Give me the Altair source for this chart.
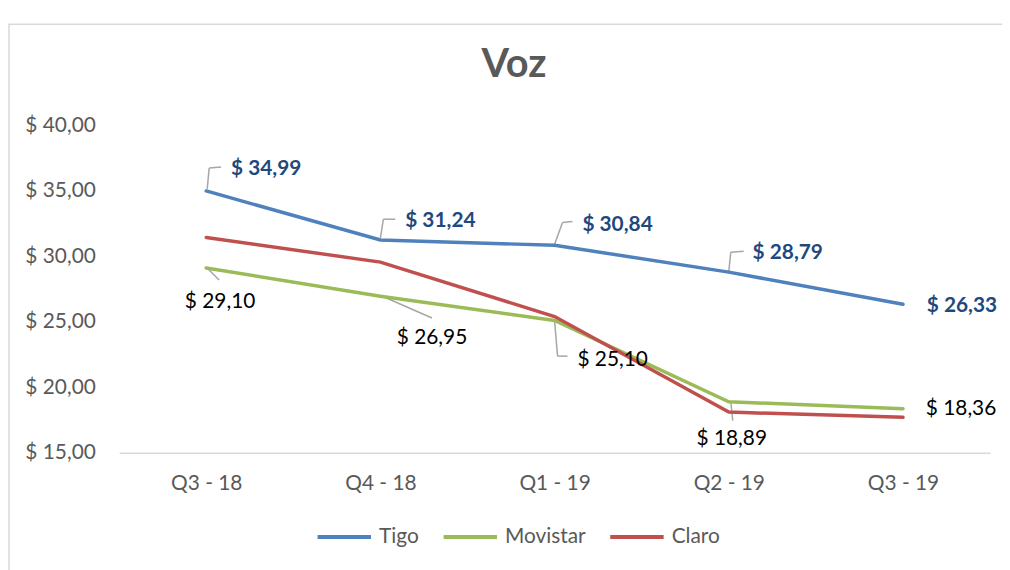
import json
import altair as alt
import pandas as pd

# ---------------- data ----------------
quarters = ["Q3 - 18", "Q4 - 18", "Q1 - 19", "Q2 - 19", "Q3 - 19"]
series = ["Tigo", "Movistar", "Claro"]
tigo = [34.99, 31.24, 30.84, 28.79, 26.33]
movistar = [29.10, 26.95, 25.10, 18.89, 18.36]
claro = [31.44, 29.55, 25.40, 18.10, 17.70]
y_ticks = [15, 20, 25, 30, 35, 40]

# ---------------- styles ----------------
colors = ["#4F81BD", "#9BBB59", "#C0504D"]
FONT = "Lato"
GREY_TXT = "#595959"
LEADER = "#A6A6A6"

# label offsets (dx, dy, align) in pixels, per point
tigo_lbl = [(25, -22, "left"), (25, -19, "left"), (28, -20, "left"), (24, -19, "left"), (24, 2, "left")]
mov_lbl = [(14, 34, "center"), (52, 42, "center"), (23, 40, "left"), (3, 38, "center"), (23, 0, "left")]
# leader segments (x1off, y1off, x2off, y2off) in pixels, per point
tigo_lead = [
    [(1, -2, 3, -23), (3, -23, 15, -24)],
    [(0, -2, 3, -21), (3, -21, 15, -21)],
    [(0, -1, 8, -23), (8, -23, 18, -24)],
    [(0, -1, 2, -20), (2, -20, 15, -21)],
    [],
]
mov_lead = [
    [(2, 1, 13, 12)],
    [(2, 0, 52, 22)],
    [(0, 1, 3, 36), (3, 36, 13, 36)],
    [(2, 0, 4, 19)],
    [],
]

rows = []
for name, vals in zip(series, [tigo, movistar, claro]):
    for i, (q, v) in enumerate(zip(quarters, vals)):
        rows.append({"series": name, "i": i, "quarter": q, "value": v,
                     "label": "$ " + f"{v:.2f}".replace(".", ",")})
df = pd.DataFrame(rows)

x_enc = alt.X(
    "i:Q",
    scale=alt.Scale(domain=[-0.5, 4.5], nice=False, zero=False),
    axis=alt.Axis(
        values=list(range(len(quarters))),
        labelExpr=json.dumps(quarters) + "[datum.value]",
        ticks=False, grid=False, domainColor="#D9D9D9", domainWidth=1.5,
        labelFont=FONT, labelFontSize=21, labelColor=GREY_TXT, labelPadding=20,
        title=None,
    ),
)
y_enc = alt.Y(
    "value:Q",
    scale=alt.Scale(domain=[15, 40], nice=False, zero=False),
    axis=alt.Axis(
        values=y_ticks,
        labelExpr="'$ ' + replace(format(datum.value, '.2f'), '.', ',')",
        ticks=False, grid=False, domain=False,
        labelFont=FONT, labelFontSize=21, labelColor=GREY_TXT, labelPadding=24,
        title=None,
    ),
)

base = alt.Chart(df)

lines = base.mark_line(strokeWidth=3.5, strokeCap="round").encode(
    x=x_enc, y=y_enc,
    color=alt.Color(
        "series:N",
        scale=alt.Scale(domain=series, range=colors),
        legend=alt.Legend(
            orient="none", legendX=198, legendY=386, direction="horizontal",
            symbolType="stroke", symbolStrokeWidth=4, symbolSize=2900,
            labelFont=FONT, labelFontSize=21, labelColor=GREY_TXT,
            columnPadding=16, labelOffset=6, title=None,
        ),
    ),
    detail="series:N",
)

layers = []

# leader lines
for name, leads in [("Tigo", tigo_lead), ("Movistar", mov_lead)]:
    for i, segs in enumerate(leads):
        for (a, b, c, d) in segs:
            layers.append(
                base.transform_filter(
                    (alt.datum.series == name) & (alt.datum.i == i)
                ).mark_rule(
                    color=LEADER, strokeWidth=1.5,
                    xOffset=a, yOffset=b, x2Offset=c, y2Offset=d,
                ).encode(x=x_enc, y=y_enc, x2=alt.X2("i"), y2=alt.Y2("value"))
            )

layers.append(lines)

# data labels
for name, lbls, color, weight in [("Tigo", tigo_lbl, "#1F497D", "bold"),
                                  ("Movistar", mov_lbl, "#000000", "normal")]:
    for i, (dx, dy, al) in enumerate(lbls):
        layers.append(
            base.transform_filter(
                (alt.datum.series == name) & (alt.datum.i == i)
            ).mark_text(
                dx=dx, dy=dy, align=al, baseline="middle",
                font=FONT, fontSize=21, fontWeight=weight, color=color,
            ).encode(x=x_enc, y=y_enc, text="label:N")
        )

border = alt.Chart(alt.Data(values=[{"k": 1}])).mark_rect(
    filled=False, stroke="#D9D9D9", strokeWidth=1.5
).encode(x=alt.value(-111), x2=alt.value(1200), y=alt.value(-102), y2=alt.value(700))

chart = alt.layer(border, *layers).properties(
    width=878,
    height=330,
    title=alt.TitleParams(
        "Voz", font=FONT, fontSize=40, fontWeight="bold", color=GREY_TXT,
        anchor="middle", dx=-41, dy=62, offset=0,
    ),
    autosize=alt.AutoSizeParams(type="none"),
    padding={"left": 112, "top": 116, "right": 12, "bottom": 116},
).configure_view(stroke=None)

chart.save("out.html", embed_options={"renderer": "svg", "actions": False})
